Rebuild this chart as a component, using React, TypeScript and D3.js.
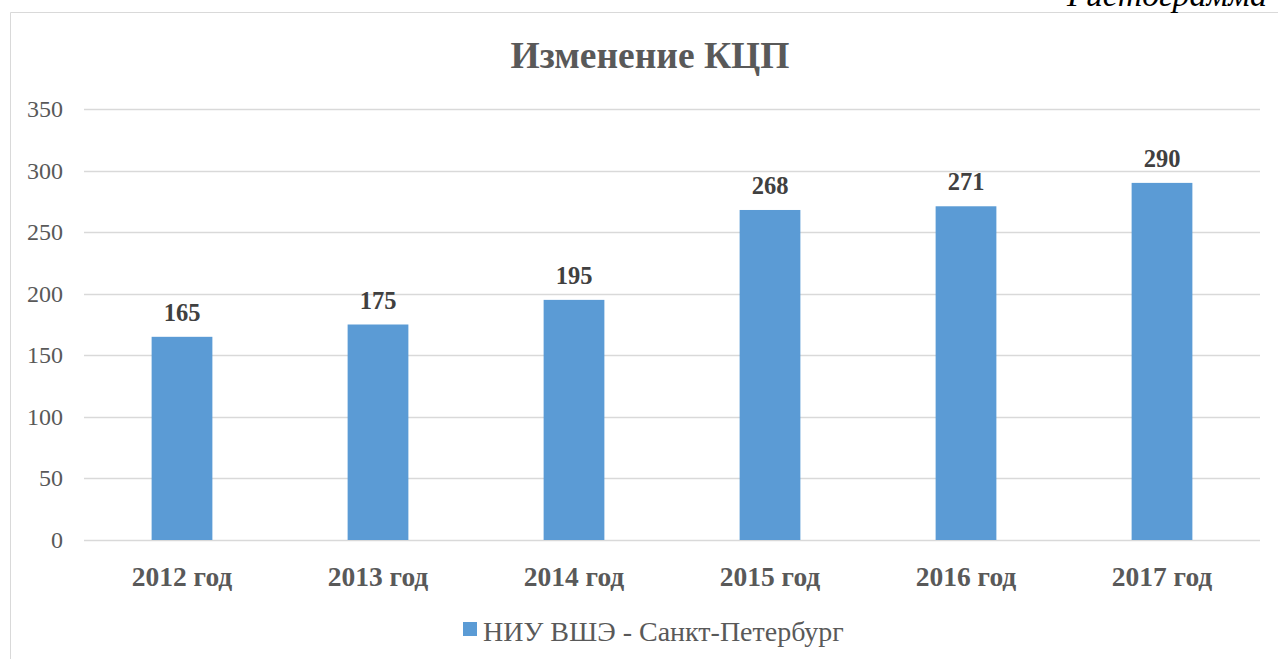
import React, { useEffect, useRef } from 'react';
import * as d3 from 'd3';

const years = ['2012 год', '2013 год', '2014 год', '2015 год', '2016 год', '2017 год'];
const values = [165, 175, 195, 268, 271, 290];
const yTicks = [0, 50, 100, 150, 200, 250, 300, 350];
const seriesName = 'НИУ ВШЭ - Санкт-Петербург';
const title = 'Изменение КЦП';

const W = 1278;
const H = 659;

const App = () => {
  const svgRef = useRef<SVGSVGElement>(null);

  useEffect(() => {
    const svg = d3.select(svgRef.current);
    svg.selectAll('*').remove();
    const font = '"Liberation Serif", "Times New Roman", serif';
    const margin = { top: 109, left: 84, right: 18, bottom: 119 };

    // chart frame
    svg.append('line').attr('x1', 10.5).attr('x2', W).attr('y1', 12.5).attr('y2', 12.5).attr('stroke', '#d9d9d9');
    svg.append('line').attr('x1', 10.5).attr('x2', 10.5).attr('y1', 12.5).attr('y2', H).attr('stroke', '#d9d9d9');

    // caption cut off at the top, as in the source
    svg.append('text')
      .attr('x', 1267).attr('y', 6)
      .attr('text-anchor', 'end')
      .attr('font-family', font).attr('font-style', 'italic').attr('font-size', 34)
      .attr('fill', '#000')
      .text('Гистограмма');

    const x = d3.scaleBand().domain(years).range([margin.left, W - margin.right]).paddingInner(0.69).paddingOuter(0.345);
    const y = d3.scaleLinear().domain([0, 350]).range([H - margin.bottom, margin.top]);

    svg.append('text')
      .attr('x', 650).attr('y', 68)
      .attr('text-anchor', 'middle')
      .attr('font-family', font).attr('font-weight', 'bold').attr('font-size', 37.5)
      .attr('fill', '#595959')
      .text(title);

    const g = svg.append('g');
    g.selectAll('line.grid').data(yTicks).join('line')
      .attr('class', 'grid')
      .attr('x1', margin.left).attr('x2', W - margin.right)
      .attr('y1', d => Math.round(y(d)) + 0.5).attr('y2', d => Math.round(y(d)) + 0.5)
      .attr('stroke', '#d9d9d9').attr('stroke-width', 1.3);

    g.selectAll('text.ytick').data(yTicks).join('text')
      .attr('class', 'ytick')
      .attr('x', 63).attr('y', d => y(d) + 8)
      .attr('text-anchor', 'end')
      .attr('font-family', font).attr('font-size', 24)
      .attr('fill', '#595959')
      .text(d => d);

    g.selectAll('rect.bar').data(values).join('rect')
      .attr('class', 'bar')
      .attr('x', (d, i) => x(years[i])!)
      .attr('width', x.bandwidth())
      .attr('y', d => y(d))
      .attr('height', d => y(0) - y(d))
      .attr('fill', '#5b9bd5');

    g.selectAll('text.val').data(values).join('text')
      .attr('class', 'val')
      .attr('x', (d, i) => x(years[i])! + x.bandwidth() / 2)
      .attr('y', d => y(d) - 16)
      .attr('text-anchor', 'middle')
      .attr('font-family', font).attr('font-weight', 'bold').attr('font-size', 24.5)
      .attr('fill', '#404040')
      .text(d => d);

    g.selectAll('text.cat').data(years).join('text')
      .attr('class', 'cat')
      .attr('x', d => x(d)! + x.bandwidth() / 2)
      .attr('y', 586)
      .attr('text-anchor', 'middle')
      .attr('font-family', font).attr('font-weight', 'bold').attr('font-size', 27.5)
      .attr('fill', '#595959')
      .text(d => d);

    // legend
    svg.append('rect').attr('x', 463).attr('y', 622).attr('width', 14).attr('height', 14).attr('fill', '#5b9bd5');
    svg.append('text')
      .attr('x', 483).attr('y', 641)
      .attr('font-family', font).attr('font-size', 28)
      .attr('fill', '#595959')
      .text(seriesName);
  }, []);

  return (
    <svg ref={svgRef} width={W} height={H} style={{ position: 'absolute', left: 0, top: 0, background: '#fff' }} />
  );
};

export default App;
